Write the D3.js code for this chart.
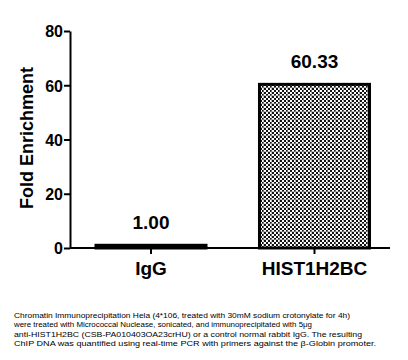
<!DOCTYPE html>
<html><head><meta charset="utf-8">
<script src="https://cdn.jsdelivr.net/npm/d3@7"></script>
<style>html,body{margin:0;padding:0;background:#fff;}svg{display:block;}</style>
</head><body>
<script>
const categories = ["IgG", "HIST1H2BC"];
const values = [1.00, 60.33];
const valueLabels = ["1.00", "60.33"];
const yTicks = [0, 20, 40, 60, 80];
const yTitle = "Fold Enrichment";
const caption = [
  "Chromatin Immunoprecipitation Hela (4*106, treated with 30mM sodium crotonylate for 4h)",
  "were treated with Micrococcal Nuclease, sonicated, and immunoprecipitated with 5μg",
  "anti-HIST1H2BC (CSB-PA010403OA23crHU) or a control normal rabbit IgG. The resulting",
  "ChIP DNA was quantified using real-time PCR with primers against the β-Globin promoter."
];
const captionWidths = [336, 298, 348, 362];

const W = 408, H = 360;
const svg = d3.select("body").append("svg").attr("width", W).attr("height", H);
const defs = svg.append("defs");
const pat = defs.append("pattern").attr("id", "chk").attr("patternUnits", "userSpaceOnUse")
  .attr("width", 8).attr("height", 8).attr("x", 0).attr("y", 0);
pat.append("rect").attr("width", 8).attr("height", 8).attr("fill", "#fff");
[[0,0],[4,0],[2,2],[6,2],[0,4],[4,4],[2,6],[6,6]].forEach(([x,y]) =>
  pat.append("rect").attr("x", x).attr("y", y).attr("width", 2).attr("height", 2).attr("fill", "#111"));
pat.append("rect").attr("x", 0).attr("y", 7).attr("width", 8).attr("height", 1).attr("fill", "#999").attr("opacity", 0.6);
pat.append("rect").attr("x", 7).attr("y", 0).attr("width", 1).attr("height", 8).attr("fill", "#999").attr("opacity", 0.6);

const y = d3.scaleLinear().domain([0, 80]).range([248, 31]);
const x = d3.scaleBand().domain(categories).range([70, 395.5]).paddingInner(0.327).paddingOuter(0.159);

const font = "'Liberation Sans', Arial, Helvetica, sans-serif";

// bars
svg.selectAll("rect.bar").data(categories).join("rect")
  .attr("class", "bar")
  .attr("x", d => x(d))
  .attr("width", x.bandwidth())
  .attr("y", (d, i) => y(values[i]))
  .attr("height", (d, i) => y(0) - y(values[i]))
  .attr("fill", "url(#chk)")
  .attr("stroke", "#000").attr("stroke-width", 3);

// y axis
const yAxis = svg.append("g").attr("transform", "translate(70,0)")
  .call(d3.axisLeft(y).tickValues(yTicks).tickSize(6).tickSizeOuter(0).tickFormat(d3.format("d")));
yAxis.select(".domain").attr("stroke", "#000").attr("stroke-width", 2);
yAxis.selectAll(".tick line").attr("stroke", "#000").attr("stroke-width", 2);
yAxis.selectAll(".tick text").attr("font-family", font).attr("font-weight", "bold")
  .attr("font-size", 16).attr("fill", "#000").attr("x", -7).attr("dy", "0.36em");

// x axis
const xAxis = svg.append("g").attr("transform", "translate(0,248)")
  .call(d3.axisBottom(x).tickSize(6).tickSizeOuter(0));
xAxis.select(".domain").attr("d", "M70,0H390").attr("stroke", "#000").attr("stroke-width", 2);
xAxis.selectAll(".tick line").attr("stroke", "#000").attr("stroke-width", 2);
xAxis.selectAll(".tick text").attr("font-family", font).attr("font-weight", "bold")
  .attr("font-size", 19).attr("fill", "#000").attr("y", 14).attr("dy", "0.71em");

// value labels
svg.selectAll("text.val").data(categories).join("text")
  .attr("class", "val")
  .attr("x", d => x(d) + x.bandwidth() / 2)
  .attr("y", (d, i) => y(values[i]) - 16)
  .attr("text-anchor", "middle")
  .attr("font-family", font).attr("font-weight", "bold").attr("font-size", 19)
  .text((d, i) => valueLabels[i]);

// y title
svg.append("text")
  .attr("transform", "translate(33,138) rotate(-90)")
  .attr("text-anchor", "middle")
  .attr("font-family", font).attr("font-weight", "bold").attr("font-size", 18)
  .text(yTitle);

// caption
svg.selectAll("text.cap").data(caption).join("text")
  .attr("class", "cap")
  .attr("x", 14)
  .attr("y", (d, i) => 318 + i * 9.4)
  .attr("font-family", font).attr("font-size", 8)
  .attr("fill", "#000")
  .attr("textLength", (d, i) => captionWidths[i]).attr("lengthAdjust", "spacingAndGlyphs")
  .text(d => d);
</script>
</body></html>
